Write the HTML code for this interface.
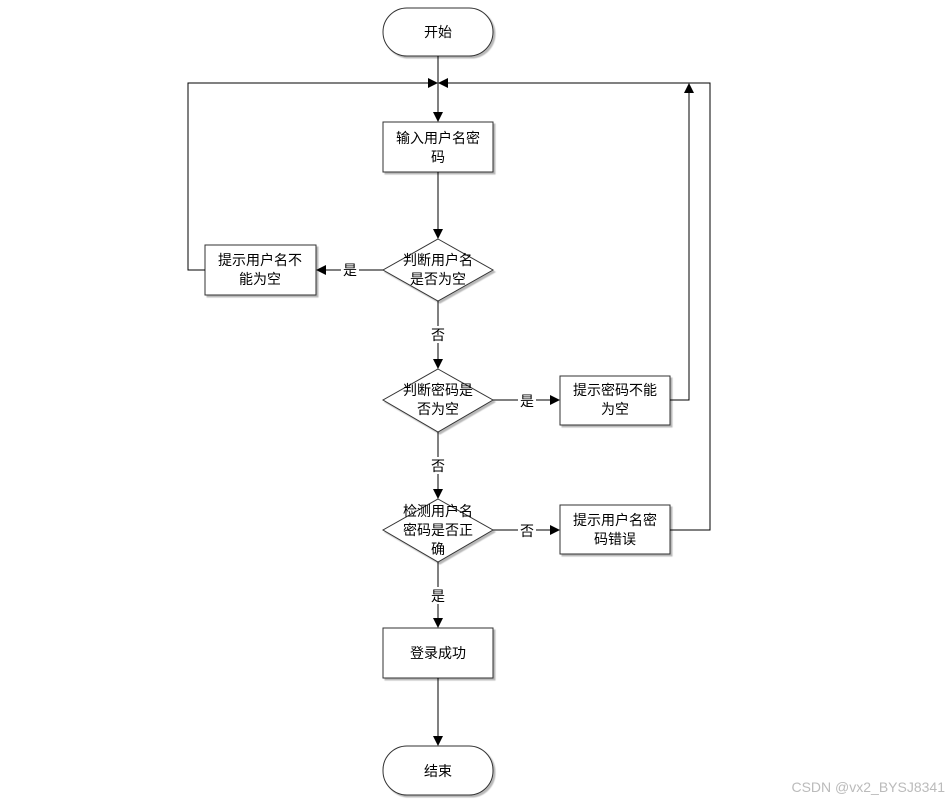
<!DOCTYPE html>
<html><head><meta charset="utf-8"><style>
html,body{margin:0;padding:0;background:#fff;}
svg text{font-family:"Liberation Sans","Noto Sans CJK SC",sans-serif;font-size:14px;fill:#000;}
</style></head><body>
<svg width="951" height="805" viewBox="0 0 951 805" xmlns="http://www.w3.org/2000/svg">
<defs>
<marker id="a" markerWidth="10" markerHeight="10" refX="9" refY="5" orient="auto" markerUnits="userSpaceOnUse">
<path d="M0,0 L10,5 L0,10 z" fill="#000"/></marker>
<filter id="s" x="-10%" y="-10%" width="130%" height="130%"><feDropShadow dx="2" dy="2" stdDeviation="0.5" flood-color="#888" flood-opacity="0.6"/></filter>
</defs>
<g fill="#fff" stroke="#333" stroke-width="1">
<rect x="383" y="8" width="110" height="48" rx="24" filter="url(#s)"/>
<rect x="383" y="122" width="110" height="50" filter="url(#s)"/>
<polygon points="438,239 493,270 438,301 383,270" filter="url(#s)"/>
<rect x="205" y="245" width="111" height="50" filter="url(#s)"/>
<polygon points="438,369 493,400 438,432 383,400" filter="url(#s)"/>
<rect x="560" y="376" width="110" height="49" filter="url(#s)"/>
<polygon points="438,499 493,530 438,562 383,530" filter="url(#s)"/>
<rect x="560" y="505" width="110" height="49" filter="url(#s)"/>
<rect x="383" y="628" width="110" height="50" filter="url(#s)"/>
<rect x="383" y="746" width="110" height="49" rx="24" filter="url(#s)"/>
</g>
<g stroke="#000" stroke-width="1" fill="none">
<line x1="438" y1="56" x2="438" y2="121" marker-end="url(#a)"/>
<line x1="438" y1="172" x2="438" y2="238" marker-end="url(#a)"/>
<line x1="383" y1="270" x2="317" y2="270" marker-end="url(#a)"/>
<polyline points="205,270 188,270 188,83 437,83" marker-end="url(#a)"/>
<line x1="438" y1="301" x2="438" y2="368" marker-end="url(#a)"/>
<line x1="493" y1="400" x2="559" y2="400" marker-end="url(#a)"/>
<polyline points="670,400 689,400 689,84" marker-end="url(#a)"/>
<line x1="438" y1="432" x2="438" y2="498" marker-end="url(#a)"/>
<line x1="493" y1="530" x2="559" y2="530" marker-end="url(#a)"/>
<polyline points="670,530 710,530 710,83 439,83" marker-end="url(#a)"/>
<line x1="438" y1="562" x2="438" y2="627" marker-end="url(#a)"/>
<line x1="438" y1="678" x2="438" y2="745" marker-end="url(#a)"/>
</g>
<g text-anchor="middle">
<text x="438" y="37">开始</text>
<text x="438" y="143">输入用户名密</text><text x="438" y="162">码</text>
<text x="438" y="265">判断用户名</text><text x="438" y="284">是否为空</text>
<text x="260" y="265">提示用户名不</text><text x="260" y="284">能为空</text>
<text x="438" y="395">判断密码是</text><text x="438" y="414">否为空</text>
<text x="615" y="395">提示密码不能</text><text x="615" y="414">为空</text>
<text x="438" y="516">检测用户名</text><text x="438" y="535">密码是否正</text><text x="438" y="554">确</text>
<text x="615" y="525">提示用户名密</text><text x="615" y="544">码错误</text>
<text x="438" y="658">登录成功</text>
<text x="438" y="776">结束</text>
</g>
<g text-anchor="middle">
<rect x="341" y="261" width="18" height="17" fill="#fff"/><text x="350" y="275">是</text>
<rect x="429" y="326" width="18" height="17" fill="#fff"/><text x="438" y="340">否</text>
<rect x="518" y="392" width="18" height="17" fill="#fff"/><text x="527" y="406">是</text>
<rect x="429" y="457" width="18" height="17" fill="#fff"/><text x="438" y="471">否</text>
<rect x="518" y="522" width="18" height="17" fill="#fff"/><text x="527" y="536">否</text>
<rect x="429" y="587" width="18" height="17" fill="#fff"/><text x="438" y="601">是</text>
</g>
<text x="945" y="792" text-anchor="end" style="font-size:14px;fill:#bbb">CSDN @vx2_BYSJ8341</text>
</svg>
</body></html>
